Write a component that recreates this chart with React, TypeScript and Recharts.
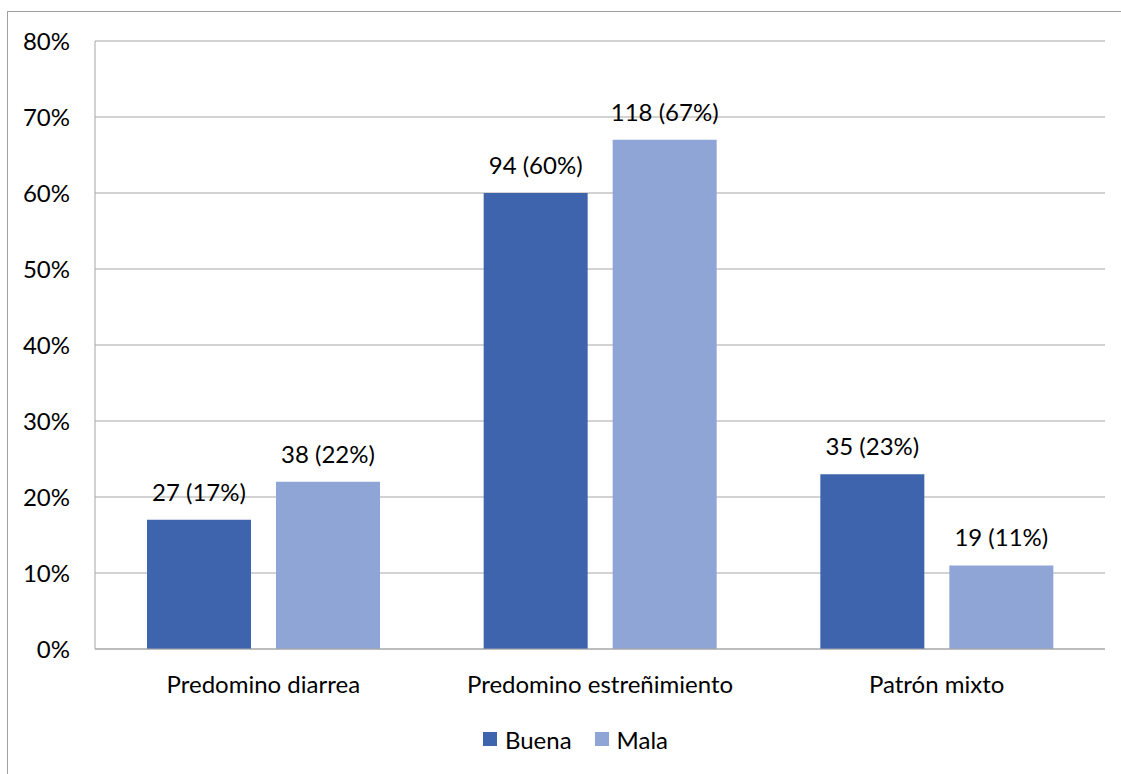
import React from "react";
import { BarChart, Bar, XAxis, YAxis, CartesianGrid, Legend, LabelList } from "recharts";

const categories = ["Predomino diarrea", "Predomino estreñimiento", "Patrón mixto"];
const buenaPct = [17, 60, 23];
const buenaN = [27, 94, 35];
const malaPct = [22, 67, 11];
const malaN = [38, 118, 19];
const yTicks = [0, 10, 20, 30, 40, 50, 60, 70, 80];

const BUENA = "#3D64AD";
const MALA = "#8FA5D5";
const GRID = "#A6A6A6";
const FONT = "Lato, 'Open Sans', sans-serif";
const FS = 24;

const data = categories.map((name, i) => ({
  name,
  buena: buenaPct[i],
  mala: malaPct[i],
}));

const makeLabel = (counts: number[], pcts: number[]) => (props: any) => {
  const { x, y, width, index } = props;
  return (
    <text
      x={Number(x) + Number(width) / 2}
      y={Number(y) - 19}
      textAnchor="middle"
      fontSize={FS}
      fontFamily={FONT}
      fill="#000"
    >
      {`${counts[index]} (${pcts[index]}%)`}
    </text>
  );
};

const LegendBox = () => (
  <div
    style={{
      height: 40,
      boxSizing: "border-box",
      display: "flex",
      justifyContent: "center",
      alignItems: "center",
      paddingLeft: 46,
      paddingBottom: 4,
      fontFamily: FONT,
      fontSize: FS,
      color: "#000",
    }}
  >
    {[
      { label: "Buena", color: BUENA },
      { label: "Mala", color: MALA },
    ].map((it, i) => (
      <div key={it.label} style={{ display: "flex", alignItems: "center", marginLeft: i ? 23 : 0 }}>
        <span style={{ width: 14, height: 14, background: it.color, marginRight: 8, display: "inline-block" }} />
        <span>{it.label}</span>
      </div>
    ))}
  </div>
);

export default function App() {
  return (
    <div style={{ position: "absolute", left: 0, top: 0, width: 1121, height: 774, overflow: "hidden", background: "#fff" }}>
      <div
        style={{
          position: "absolute",
          left: 7,
          top: 11,
          width: 1130,
          height: 800,
          border: "1px solid #A0A0A0",
        }}
      />
      <div style={{ position: "absolute", left: 0, top: 0 }}>
        <BarChart
          width={1121}
          height={774}
          data={data}
          margin={{ top: 41, right: 16, bottom: 13, left: 0 }}
          barSize={104}
          barGap={25}
        >
          <CartesianGrid vertical={false} stroke={GRID} strokeWidth={1} />
          <XAxis
            dataKey="name"
            height={72}
            tickSize={0}
            tickMargin={27}
            axisLine={{ stroke: GRID }}
            tick={{ fontSize: FS, fontFamily: FONT, fill: "#000" }}
          />
          <YAxis
            width={95}
            domain={[0, 80]}
            ticks={yTicks}
            tickFormatter={(v) => `${v}%`}
            tickSize={0}
            tickMargin={25}
            axisLine={{ stroke: GRID }}
            tick={{ fontSize: FS, fontFamily: FONT, fill: "#000" }}
          />
          <Legend verticalAlign="bottom" content={() => <LegendBox />} />
          <Bar dataKey="buena" name="Buena" fill={BUENA} isAnimationActive={false}>
            <LabelList dataKey="buena" content={makeLabel(buenaN, buenaPct)} />
          </Bar>
          <Bar dataKey="mala" name="Mala" fill={MALA} isAnimationActive={false}>
            <LabelList dataKey="mala" content={makeLabel(malaN, malaPct)} />
          </Bar>
        </BarChart>
      </div>
    </div>
  );
}
